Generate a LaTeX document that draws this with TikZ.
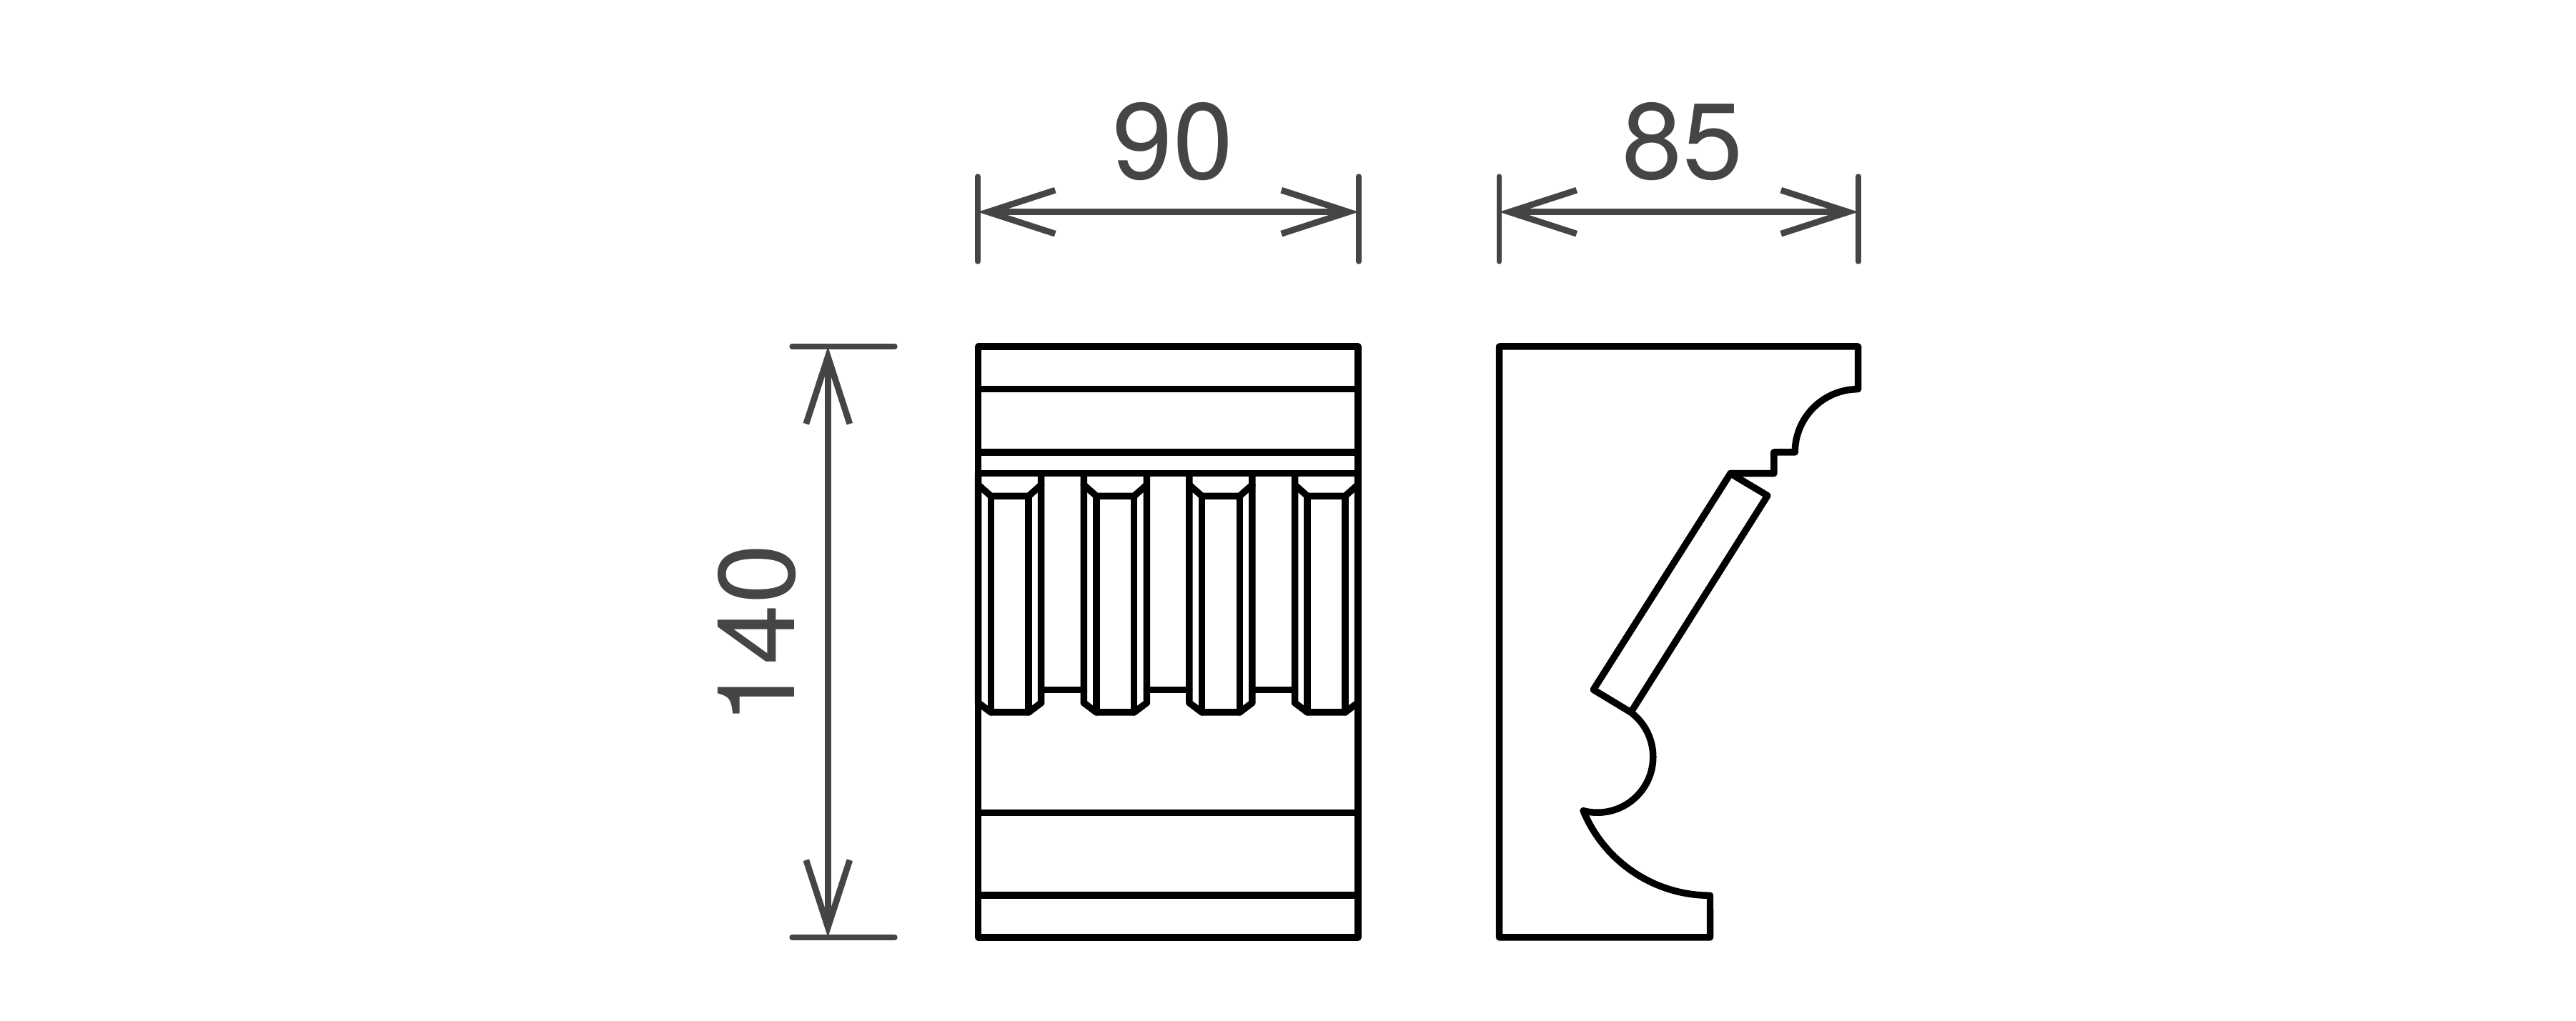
\documentclass[tikz,border=0pt]{standalone}
\usepackage{fontspec}
\setmainfont{TeX Gyre Heros}
\usetikzlibrary{arrows.meta}
\definecolor{dimgrey}{HTML}{454545}

\tikzset{
  outline/.style={draw=black,line width=2.7pt,line join=round,line cap=round},
  dimline/.style={draw=dimgrey,line width=2.5pt,
    {Straight Barb[length=9.4mm,width=6.1mm]}-{Straight Barb[length=9.4mm,width=6.1mm]}},
  dimtick/.style={draw=dimgrey,line width=2.1pt,line cap=round},
  dimlabel/.style={text=dimgrey,inner sep=0pt,font=\fontsize{43}{50}\selectfont}
}

\begin{document}
\begin{tikzpicture}
\useasboundingbox (0,0) rectangle (36.04,14.29);

% front view
\draw[outline] (13.687,9.44) rectangle (19,1.17);
\foreach \y in {8.843,7.96,7.663,2.913,1.76}
  \draw[outline] (13.687,\y) -- (19,\y);

\foreach \i in {0,1,2,3} {
\begin{scope}[xshift=\i*1.476cm]
\draw[outline]
(13.687,7.663) -- (13.687,4.453) -- (13.863,4.32) -- (14.391,4.32) --
(14.567,4.453) -- (14.567,7.663);
\draw[outline]
(13.687,7.503) -- (13.863,7.347) -- (14.391,7.347) -- (14.567,7.503);
\draw[outline] (13.863,7.347) -- (13.863,4.32);
\draw[outline] (14.391,7.347) -- (14.391,4.32);
\end{scope}
}
\foreach \i in {0,1,2} {
\begin{scope}[xshift=\i*1.476cm]
\draw[outline] (14.567,4.637) -- (15.163,4.637);
\end{scope}
}

% side view
\draw[outline]
(20.975,9.44) -- (25.996,9.44) -- (25.996,8.843)
arc[start angle=90,end angle=180,radius=.883] --
(24.818,7.96) -- (24.818,7.663) -- (24.21,7.663) --
(22.293,4.637) -- (22.817,4.32)
arc[start angle=53,end angle=-104.6,radius=.78]
arc[start angle=202.5,end angle=270,radius=1.92] --
(23.925,1.17) -- (20.975,1.17) -- cycle;
\draw[outline] (24.21,7.663) -- (24.729,7.353) -- (22.817,4.32);

% dimensions
\coordinate (widthL) at (13.68,11.323);
\coordinate (widthR) at (19.01,11.323);
\coordinate (depthL) at (20.975,11.323);
\coordinate (depthR) at (26.0,11.323);
\coordinate (heightT) at (11.583,9.44);
\coordinate (heightB) at (11.583,1.17);

\draw[dimtick] (13.68,11.82) -- (13.68,10.63);
\draw[dimtick] (19.01,11.82) -- (19.01,10.63);
\draw[dimtick] (20.975,11.82) -- (20.975,10.63);
\draw[dimtick] (26,11.82) -- (26,10.63);
\draw[dimtick] (11.08,9.44) -- (12.52,9.44);
\draw[dimtick] (11.08,1.17) -- (12.52,1.17);

\draw[dimline] (widthL) -- (widthR);
\draw[dimline] (depthL) -- (depthR);
\draw[dimline] (heightT) -- (heightB);

\node[dimlabel] (widthText) at (16.41,12.31) {90};
\node[dimlabel] (depthText) at (23.54,12.31) {85};
\node[dimlabel,rotate=90] (heightText) at (10.59,5.41) {140};

\end{tikzpicture}
\end{document}
